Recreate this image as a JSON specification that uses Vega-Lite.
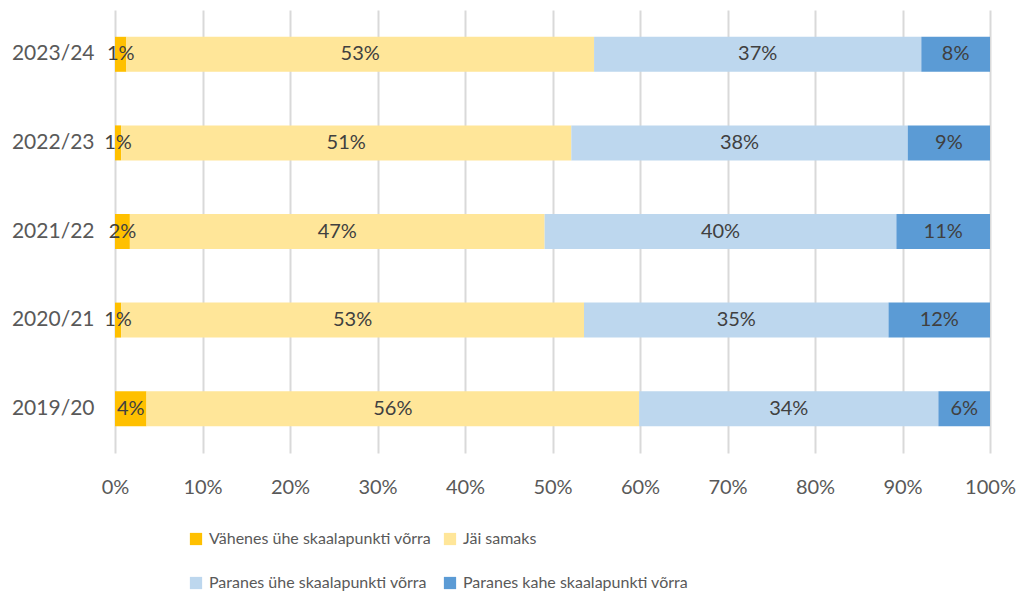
{
  "$schema": "https://vega.github.io/schema/vega-lite/v6.json",
  "width": 875,
  "height": 443,
  "autosize": "none",
  "padding": {"left": 115, "top": 10, "right": 33, "bottom": 141},
  "background": "white",
  "config": {"view": {"stroke": null}, "font": "Lato"},
  "data": {"values": [
    {"year": "2023/24", "cat": "Vähenes ühe skaalapunkti võrra", "order": 1, "value": 1.3},
    {"year": "2023/24", "cat": "Jäi samaks", "order": 2, "value": 53.45},
    {"year": "2023/24", "cat": "Paranes ühe skaalapunkti võrra", "order": 3, "value": 37.4},
    {"year": "2023/24", "cat": "Paranes kahe skaalapunkti võrra", "order": 4, "value": 7.85},
    {"year": "2022/23", "cat": "Vähenes ühe skaalapunkti võrra", "order": 1, "value": 0.7},
    {"year": "2022/23", "cat": "Jäi samaks", "order": 2, "value": 51.45},
    {"year": "2022/23", "cat": "Paranes ühe skaalapunkti võrra", "order": 3, "value": 38.45},
    {"year": "2022/23", "cat": "Paranes kahe skaalapunkti võrra", "order": 4, "value": 9.4},
    {"year": "2021/22", "cat": "Vähenes ühe skaalapunkti võrra", "order": 1, "value": 1.7},
    {"year": "2021/22", "cat": "Jäi samaks", "order": 2, "value": 47.4},
    {"year": "2021/22", "cat": "Paranes ühe skaalapunkti võrra", "order": 3, "value": 40.2},
    {"year": "2021/22", "cat": "Paranes kahe skaalapunkti võrra", "order": 4, "value": 10.7},
    {"year": "2020/21", "cat": "Vähenes ühe skaalapunkti võrra", "order": 1, "value": 0.7},
    {"year": "2020/21", "cat": "Jäi samaks", "order": 2, "value": 52.9},
    {"year": "2020/21", "cat": "Paranes ühe skaalapunkti võrra", "order": 3, "value": 34.8},
    {"year": "2020/21", "cat": "Paranes kahe skaalapunkti võrra", "order": 4, "value": 11.6},
    {"year": "2019/20", "cat": "Vähenes ühe skaalapunkti võrra", "order": 1, "value": 3.6},
    {"year": "2019/20", "cat": "Jäi samaks", "order": 2, "value": 56.3},
    {"year": "2019/20", "cat": "Paranes ühe skaalapunkti võrra", "order": 3, "value": 34.2},
    {"year": "2019/20", "cat": "Paranes kahe skaalapunkti võrra", "order": 4, "value": 5.9}
  ]},
  "transform": [
    {"stack": "value", "groupby": ["year"], "sort": [{"field": "order", "order": "ascending"}], "offset": "normalize", "as": ["x0", "x1"]},
    {"calculate": "(datum.x0 + datum.x1) / 2", "as": "xmid"},
    {"calculate": "datum.x1 - datum.x0", "as": "share"}
  ],
  "encoding": {
    "y": {
      "field": "year", "type": "nominal",
      "sort": ["2023/24", "2022/23", "2021/22", "2020/21", "2019/20"],
      "scale": {"paddingInner": 0.605, "paddingOuter": 0.3025},
      "axis": {"title": null, "domain": false, "ticks": false, "labelPadding": 21, "labelFontSize": 21, "labelColor": "#595959", "labelFont": "Lato"}
    }
  },
  "layer": [
    {
      "mark": {"type": "bar"},
      "encoding": {
        "x": {
          "field": "x0", "type": "quantitative",
          "scale": {"domain": [0, 1], "nice": false},
          "axis": {"title": null, "format": ".0%", "values": [0, 0.1, 0.2, 0.3, 0.4, 0.5, 0.6, 0.7, 0.8, 0.9, 1], "labelOverlap": false, "domain": false, "ticks": false, "grid": true, "gridColor": "#D9D9D9", "gridWidth": 2, "labelPadding": 24, "labelFontSize": 20, "labelColor": "#595959", "labelFont": "Lato", "labelFlush": false}
        },
        "x2": {"field": "x1"},
        "color": {
          "field": "cat", "type": "nominal",
          "scale": {
            "domain": ["Vähenes ühe skaalapunkti võrra", "Paranes ühe skaalapunkti võrra", "Jäi samaks", "Paranes kahe skaalapunkti võrra"],
            "range": ["#FFC000", "#BDD7EE", "#FFE699", "#5B9BD5"]
          },
          "legend": {
            "title": null, "orient": "none", "legendX": 73, "legendY": 521, "columns": 2,
            "symbolType": "square", "symbolSize": 150, "symbolStrokeWidth": 0,
            "labelFontSize": 16, "labelColor": "#595959", "labelFont": "Lato", "labelOffset": 5,
            "rowPadding": 28, "columnPadding": 10, "labelLimit": 400
          }
        }
      }
    },
    {
      "mark": {"type": "text", "fontSize": 20, "color": "#404040", "font": "Lato", "baseline": "middle", "align": "center"},
      "encoding": {
        "x": {
          "field": "xmid", "type": "quantitative",
          "axis": {"title": null, "format": ".0%", "values": [0, 0.1, 0.2, 0.3, 0.4, 0.5, 0.6, 0.7, 0.8, 0.9, 1], "labelOverlap": false, "domain": false, "ticks": false, "grid": true, "gridColor": "#D9D9D9", "gridWidth": 2, "labelPadding": 24, "labelFontSize": 20, "labelColor": "#595959", "labelFont": "Lato", "labelFlush": false}
        },
        "text": {"field": "share", "type": "quantitative", "format": ".0%"}
      }
    }
  ]
}
